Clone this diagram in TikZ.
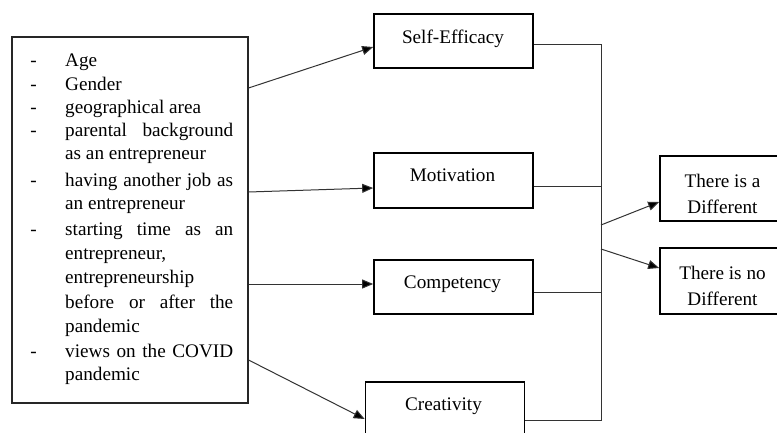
\documentclass[tikz,border=0pt]{standalone}
\usepackage{fontspec}
\setmainfont{Liberation Serif}
\usetikzlibrary{arrows.meta}
\newcommand\justline[1]{\makebox[168pt][s]{#1}}
\begin{document}
\begin{tikzpicture}[x=1pt,y=-1pt,
  box/.style={draw=black, line width=1.7pt, minimum width=159pt, minimum height=54pt, inner sep=0pt},
  txt/.style={font=\fontsize{19.2}{24}\selectfont, inner sep=0pt, anchor=base, text=black},
  ltxt/.style={txt, anchor=base west},
  conn/.style={draw=black!80, line width=1pt},
  arr/.style={conn, -{Triangle[length=11pt,width=9pt,fill=black]}},
]
\path[use as bounding box, clip] (0,0) rectangle (777,433);
\fill[white] (0,0) rectangle (777,433);

% factor box
\node[draw=black!85, line width=1.1pt, minimum width=236pt, minimum height=366pt, inner sep=0pt] (fa) at (130,220) {};
\node[txt] (da1) at (33.5,67) {-};
\node[ltxt] (la1) at (65,67) {Age};
\node[txt] (da2) at (33.5,91) {-};
\node[ltxt] (la2) at (65,91) {Gender};
\node[txt] (da3) at (33.5,114) {-};
\node[ltxt] (la3) at (65,114) {geographical area};
\node[txt] (da4) at (33.5,137) {-};
\node[ltxt] (la4) at (65,137) {\justline{parental background}};
\node[ltxt] (la5) at (65,160) {as an entrepreneur};
\node[txt] (da6) at (33.5,187) {-};
\node[ltxt] (la6) at (65,187) {\justline{having another job as}};
\node[ltxt] (la7) at (65,210) {an entrepreneur};
\node[txt] (da8) at (33.5,235) {-};
\node[ltxt] (la8) at (65,235) {\justline{starting time as an}};
\node[ltxt] (la9) at (65,259) {entrepreneur,};
\node[ltxt] (la10) at (65,283) {entrepreneurship};
\node[ltxt] (la11) at (65,308) {\justline{before or after the}};
\node[ltxt] (la12) at (65,332) {pandemic};
\node[txt] (da13) at (33.5,357) {-};
\node[ltxt] (la13) at (65,357) {\justline{views on the COVID}};
\node[ltxt] (la14) at (65,380) {pandemic};

% variable boxes
\node[box] (se) at (453.5,41) {};
\node[txt] (se-t) at (453,43.3) {Self-Efficacy};
\node[box, minimum height=55pt] (mo) at (453.5,180.5) {};
\node[txt] (mo-t) at (452.5,181.7) {Motivation};
\node[box] (co) at (453.5,287) {};
\node[txt] (co-t) at (452.5,288.3) {Competency};
\node[box, minimum height=56pt] (cr) at (445,410) {};
\node[txt] (cr-t) at (443.5,410.7) {Creativity};

% outcome boxes
\node[box, minimum width=124pt, minimum height=65pt] (d1) at (722,188.5) {};
\node[txt] (d1-a) at (722.5,187.3) {There is a};
\node[txt] (d1-b) at (722.5,213.3) {Different};
\node[box, minimum width=124pt, minimum height=66pt] (d2) at (722,281) {};
\node[txt] (d2-a) at (722.5,279) {There is no};
\node[txt] (d2-b) at (722.5,305) {Different};

% arrows from factors
\draw[arr] (fa.east |- 0,88) -- (se.west |- 0,47);
\draw[arr] (fa.east |- 0,192) -- (mo.west |- 0,188);
\draw[arr] (fa.east |- 0,284) -- (co.west |- 0,284);
\draw[arr] (fa.east |- 0,360) -- (cr.west |- 0,419);

% bus
\coordinate (jt) at (601,45);
\coordinate (jm) at (601,187);
\coordinate (jc) at (601,292);
\coordinate (jb) at (601,420);
\coordinate (j1) at (601,225);
\coordinate (j2) at (601,249);
\draw[conn] (se.east |- jt) -- (jt) -- (jb) -- (cr.east |- jb);
\draw[conn] (mo.east |- jm) -- (jm);
\draw[conn] (co.east |- jc) -- (jc);
\draw[arr] (j1) -- (d1.west |- 0,202);
\draw[arr] (j2) -- (d2.west |- 0,268);
\end{tikzpicture}
\end{document}
